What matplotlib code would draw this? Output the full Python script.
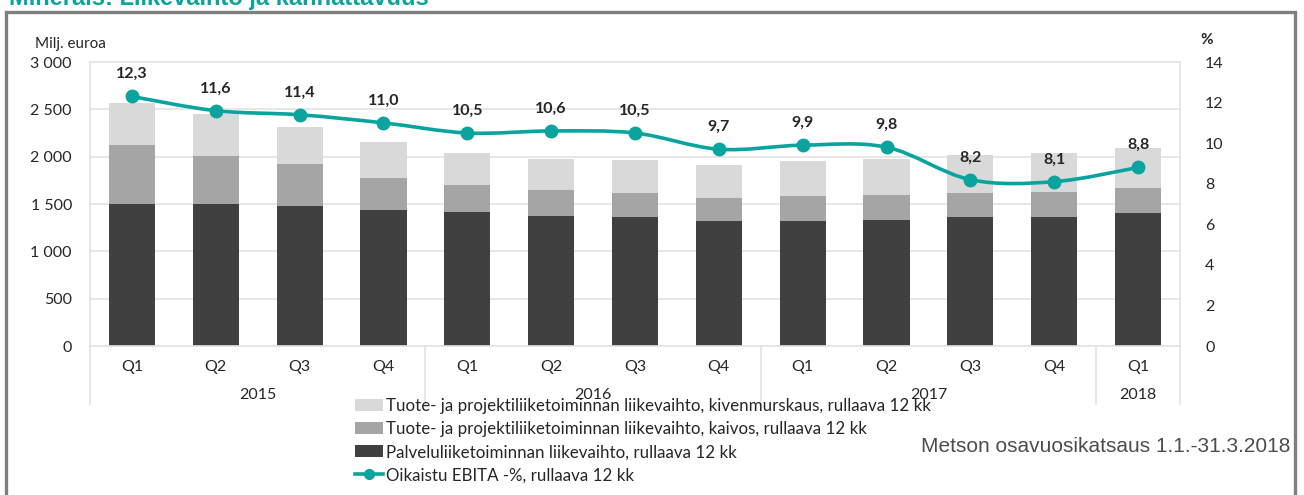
import matplotlib
matplotlib.use("Agg")
import matplotlib.pyplot as plt
import numpy as np
from matplotlib.path import Path
from matplotlib.patches import PathPatch, Rectangle, Patch
from matplotlib.lines import Line2D
import matplotlib.transforms as mtransforms

# ---- data ----
quarters = ["Q1", "Q2", "Q3", "Q4", "Q1", "Q2", "Q3", "Q4", "Q1", "Q2", "Q3", "Q4", "Q1"]
years = ["2015", "2016", "2017", "2018"]
year_groups = [(0, 3), (4, 7), (8, 11), (12, 12)]
services = [1505, 1497, 1482, 1437, 1412, 1377, 1359, 1324, 1324, 1331, 1359, 1366, 1405]
mining = [615, 510, 437, 334, 285, 268, 254, 239, 257, 264, 260, 261, 264]
crushing = [450, 440, 398, 381, 345, 334, 352, 349, 370, 377, 395, 412, 426]
ebita = [12.3, 11.6, 11.4, 11.0, 10.5, 10.6, 10.5, 9.7, 9.9, 9.8, 8.2, 8.1, 8.8]
ebita_labels = ["12,3", "11,6", "11,4", "11,0", "10,5", "10,6", "10,5", "9,7", "9,9", "9,8", "8,2", "8,1", "8,8"]
left_ticks = [0, 500, 1000, 1500, 2000, 2500, 3000]
left_ticklabels = ["0", "500", "1 000", "1 500", "2 000", "2 500", "3 000"]
right_ticks = [0, 2, 4, 6, 8, 10, 12, 14]
legend_labels = [
    "Tuote- ja projektiliiketoiminnan liikevaihto, kivenmurskaus, rullaava 12 kk",
    "Tuote- ja projektiliiketoiminnan liikevaihto, kaivos, rullaava 12 kk",
    "Palveluliiketoiminnan liikevaihto, rullaava 12 kk",
    "Oikaistu EBITA -%, rullaava 12 kk",
]

C_DARK = "#404040"
C_MID = "#A5A5A5"
C_LIGHT = "#D9D9D9"
C_TEAL = "#0AA39D"
C_GRID = "#E3E3E3"
FONT = "Lato"

W, H = 1304, 495
fig = plt.figure(figsize=(W / 100, H / 100), dpi=100)
fig.patch.set_facecolor("white")

def fx(px):
    return px / W

def fy(py):
    return 1 - py / H

# outer frame
fig.patches.append(Rectangle((fx(6), fy(520)), fx(1295) - fx(6), fy(12) - fy(520),
                             transform=fig.transFigure, fill=False,
                             edgecolor="#7F7F7F", linewidth=2.4, zorder=0))
# clipped title at top
fig.text(fx(9), fy(5), "Minerals: Liikevaihto ja kannattavuus", color=C_TEAL,
         fontsize=17, fontweight="bold", family="Liberation Sans", va="baseline", ha="left")

ax = fig.add_axes([fx(90), fy(346), fx(1180) - fx(90), fy(62) - fy(346)])
x = np.arange(len(quarters))
bw = 0.55
ax.bar(x, services, bw, color=C_DARK, zorder=2)
ax.bar(x, mining, bw, bottom=services, color=C_MID, zorder=2)
bot3 = [a + b for a, b in zip(services, mining)]
ax.bar(x, crushing, bw, bottom=bot3, color=C_LIGHT, zorder=2)

ax.set_xlim(-0.5, len(quarters) - 0.5)
ax.set_ylim(0, 3000)
ax.set_yticks(left_ticks)
ax.set_yticklabels(left_ticklabels, family=FONT, fontsize=11.5, color="#262626")
ax.set_xticks(x)
ax.set_xticklabels(quarters, family=FONT, fontsize=11.5, color="#262626")
ax.tick_params(axis="both", length=0)
ax.tick_params(axis="x", pad=10)
ax.tick_params(axis="y", pad=13)
ax.yaxis.grid(True, color=C_GRID, linewidth=1.2, zorder=0)
ax.set_axisbelow(True)
for s in ax.spines.values():
    s.set_color(C_GRID)
    s.set_linewidth(1.2)

# year labels and separators
trans = mtransforms.blended_transform_factory(ax.transData, ax.transAxes)
for yr, (a, b) in zip(years, year_groups):
    ax.text((a + b) / 2, -49 / 284, yr, transform=trans, ha="center", va="center",
            family=FONT, fontsize=11.5, color="#262626")
for sep in [-0.5, 3.5, 7.5, 11.5, 12.5]:
    ax.plot([sep, sep], [0, -58 / 284], transform=trans, color=C_GRID, linewidth=1.2,
            clip_on=False, zorder=1)

fig.text(fx(35), fy(44), "Milj. euroa", ha="left", va="center",
         family=FONT, fontsize=11, color="#262626")

ax2 = ax.twinx()
ax2.set_ylim(0, 14)
ax2.set_yticks(right_ticks)
ax2.set_yticklabels([str(t) for t in right_ticks], family=FONT, fontsize=11.5, color="#262626")
ax2.tick_params(axis="y", length=0, pad=18)
for s in ax2.spines.values():
    s.set_visible(False)

# smoothed line (Bezier through the data points)
pts = np.column_stack([x, ebita]).astype(float)
verts = [tuple(pts[0])]
codes = [Path.MOVETO]
n = len(pts)
for i in range(n - 1):
    p0 = pts[i - 1] if i > 0 else pts[i]
    p1 = pts[i]
    p2 = pts[i + 1]
    p3 = pts[i + 2] if i + 2 < n else pts[i + 1]
    c1 = p1 + (p2 - p0) / 6.0
    c2 = p2 - (p3 - p1) / 6.0
    verts += [tuple(c1), tuple(c2), tuple(p2)]
    codes += [Path.CURVE4] * 3
ax2.add_patch(PathPatch(Path(verts, codes), facecolor="none", edgecolor=C_TEAL,
                        linewidth=2.6, zorder=3, capstyle="round", joinstyle="round"))
ax2.plot(x, ebita, linestyle="none", marker="o", markersize=9, color=C_TEAL, zorder=4)
for xi, yi, lab in zip(x, ebita, ebita_labels):
    ax2.annotate(lab, (xi, yi), xytext=(0, 16), textcoords="offset points",
                 ha="center", va="center", family=FONT, fontsize=11.5,
                 fontweight="bold", color="#262626")

fig.text(fx(1207), fy(40), "%", ha="center", va="center", family=FONT, fontsize=11,
         fontweight="bold", color="#262626")

handles = [
    Patch(facecolor=C_LIGHT, edgecolor="none"),
    Patch(facecolor=C_MID, edgecolor="none"),
    Patch(facecolor=C_DARK, edgecolor="none"),
    Line2D([0], [0], color=C_TEAL, linewidth=2.6, marker="o", markersize=7),
]
leg = fig.legend(handles, legend_labels, loc="upper left",
                 bbox_to_anchor=(fx(355), fy(398)), frameon=False,
                 prop={"family": FONT, "size": 12.2}, labelspacing=0.42,
                 handlelength=1.65, handleheight=0.7, handletextpad=0.15,
                 borderpad=0.0, borderaxespad=0.0)
for t in leg.get_texts():
    t.set_color("#262626")

fig.text(fx(1290), fy(446), "Metson osavuosikatsaus 1.1.-31.3.2018", ha="right", va="center",
         family="Liberation Sans", fontsize=15, color="#4D4D4D")

fig.savefig("out.png", dpi=100, facecolor="white")
